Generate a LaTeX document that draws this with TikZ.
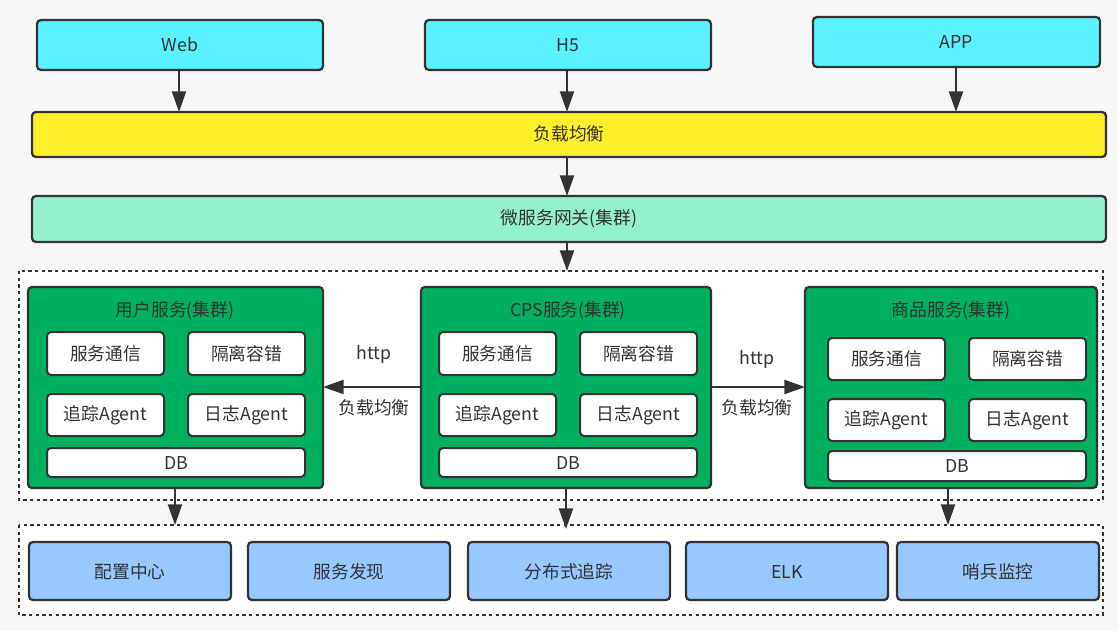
\documentclass[tikz,border=0pt]{standalone}
\usepackage{fontspec}
\setmainfont{Noto Sans CJK SC}
\usetikzlibrary{arrows.meta}
\definecolor{bg}{HTML}{F7F7F7}
\definecolor{edge}{HTML}{333333}
\definecolor{txt}{HTML}{333333}
\definecolor{cyanbox}{HTML}{5CF1FF}
\definecolor{yellowbox}{HTML}{FFEE2A}
\definecolor{mintbox}{HTML}{93F1CB}
\definecolor{greenbox}{HTML}{00AF5F}
\definecolor{bluebox}{HTML}{97C8FF}
\tikzset{
  px/.style={x=0.75pt,y=-0.75pt},
  box/.style={draw=edge,line width=1.7pt,rounded corners=3pt,inner sep=0pt,text=txt},
  smallbox/.style={box,fill=white,line width=1.5pt},
  dashbox/.style={draw=edge,line width=0.8pt,dash pattern=on 2.5pt off 2.5pt,fill=white},
  arr/.style={draw=edge,line width=1.7pt,-{Triangle[length=15.5pt,width=10.5pt]}},
  lbl/.style={text=txt,font=\fontsize{13.3}{16}\selectfont},
}
\begin{document}
\begin{tikzpicture}[px]
\fill[bg] (0,0) rectangle (1118,631);
\useasboundingbox (0,0) rectangle (1118,631);

% dashed groups
\draw[dashbox] (19,271) rectangle (1103,500);
\coordinate (grpA-top) at (567,271);
\draw[dashbox] (19,525) rectangle (1103,615);

% top clients
\draw[box,fill=cyanbox] (37,20) rectangle (323,70);
\node[lbl] (web) at (180,45) {Web};
\draw[box,fill=cyanbox] (425,20) rectangle (711,70);
\node[lbl] (h5) at (568,45) {H5};
\draw[box,fill=cyanbox] (813,17) rectangle (1100,67);
\node[lbl] (app) at (956,42) {APP};

\draw[box,fill=yellowbox] (32,112) rectangle (1106,157);
\node[lbl] (lb) at (569,134) {负载均衡};
\draw[box,fill=mintbox] (32,196) rectangle (1106,242);
\node[lbl] (gw) at (569,219) {微服务网关(集群)};

\coordinate (web-b) at (179,70);
\coordinate (h5-b) at (567,70);
\coordinate (app-b) at (956,67);
\coordinate (lb-t1) at (179,112);
\coordinate (lb-t2) at (567,112);
\coordinate (lb-t3) at (956,112);
\coordinate (lb-b) at (567,157);
\coordinate (gw-t) at (567,196);
\coordinate (gw-b) at (567,242);
\draw[arr] (web-b) -- (lb-t1);
\draw[arr] (h5-b) -- (lb-t2);
\draw[arr] (app-b) -- (lb-t3);
\draw[arr] (lb-b) -- (gw-t);
\draw[arr] (gw-b) -- (grpA-top);

% user service
\draw[box,fill=greenbox] (28,287) rectangle (323,488);
\node[lbl] (u-title) at (175,311) {用户服务(集群)};
\draw[smallbox] (47,332) rectangle (164,375); \node[lbl] (u1) at (105.5,354) {服务通信};
\draw[smallbox] (188,332) rectangle (305,375); \node[lbl] (u2) at (246.5,354) {隔离容错};
\draw[smallbox] (47,394) rectangle (164,436); \node[lbl] (u3) at (105.5,415) {追踪Agent};
\draw[smallbox] (188,394) rectangle (305,436); \node[lbl] (u4) at (246.5,415) {日志Agent};
\draw[smallbox] (47,448) rectangle (305,477); \node[lbl] (u5) at (176,463) {DB};

% CPS service
\draw[box,fill=greenbox] (421,287) rectangle (711,488);
\node[lbl] (c-title) at (568,311) {CPS服务(集群)};
\draw[smallbox] (439,332) rectangle (556,375); \node[lbl] (c1) at (497.5,354) {服务通信};
\draw[smallbox] (580,332) rectangle (697,375); \node[lbl] (c2) at (638.5,354) {隔离容错};
\draw[smallbox] (439,394) rectangle (556,436); \node[lbl] (c3) at (497.5,415) {追踪Agent};
\draw[smallbox] (580,394) rectangle (697,436); \node[lbl] (c4) at (638.5,415) {日志Agent};
\draw[smallbox] (439,448) rectangle (697,477); \node[lbl] (c5) at (568,463) {DB};

% goods service
\draw[box,fill=greenbox] (805,287) rectangle (1097,488);
\node[lbl] (g-title) at (951,311) {商品服务(集群)};
\draw[smallbox] (828,338) rectangle (945,380); \node[lbl] (g1) at (886.5,359) {服务通信};
\draw[smallbox] (969,338) rectangle (1086,380); \node[lbl] (g2) at (1027.5,359) {隔离容错};
\draw[smallbox] (828,399) rectangle (945,441); \node[lbl] (g3) at (886.5,420) {追踪Agent};
\draw[smallbox] (969,399) rectangle (1086,441); \node[lbl] (g4) at (1027.5,420) {日志Agent};
\draw[smallbox] (828,451) rectangle (1086,481); \node[lbl] (g5) at (957,466) {DB};

\coordinate (c-l) at (421,387);
\coordinate (c-r) at (711,387);
\coordinate (u-r) at (323,387);
\coordinate (g-l) at (805,387);
\draw[arr] (c-l) -- (u-r);
\draw[arr] (c-r) -- (g-l);
\node[lbl] (http1) at (374,354) {http};
\node[lbl] (lb1) at (374,408) {负载均衡};
\node[lbl] (http2) at (757,359) {http};
\node[lbl] (lb2) at (757,408) {负载均衡};

\coordinate (u-b) at (175,488);
\coordinate (c-b) at (566,488);
\coordinate (g-b) at (948,488);
\coordinate (grpB-t1) at (175,525);
\coordinate (grpB-t2) at (566,529);
\coordinate (grpB-t3) at (948,525);
\draw[arr] (u-b) -- (grpB-t1);
\draw[arr] (c-b) -- (grpB-t2);
\draw[arr] (g-b) -- (grpB-t3);

% infrastructure
\draw[box,fill=bluebox] (29,542) rectangle (231,600); \node[lbl] (i1) at (130,572) {配置中心};
\draw[box,fill=bluebox] (248,542) rectangle (450,600); \node[lbl] (i2) at (349,572) {服务发现};
\draw[box,fill=bluebox] (468,542) rectangle (670,600); \node[lbl] (i3) at (569,572) {分布式追踪};
\draw[box,fill=bluebox] (686,542) rectangle (888,600); \node[lbl] (i4) at (787,572) {ELK};
\draw[box,fill=bluebox] (897,542) rectangle (1099,600); \node[lbl] (i5) at (998,572) {哨兵监控};
\end{tikzpicture}
\end{document}
